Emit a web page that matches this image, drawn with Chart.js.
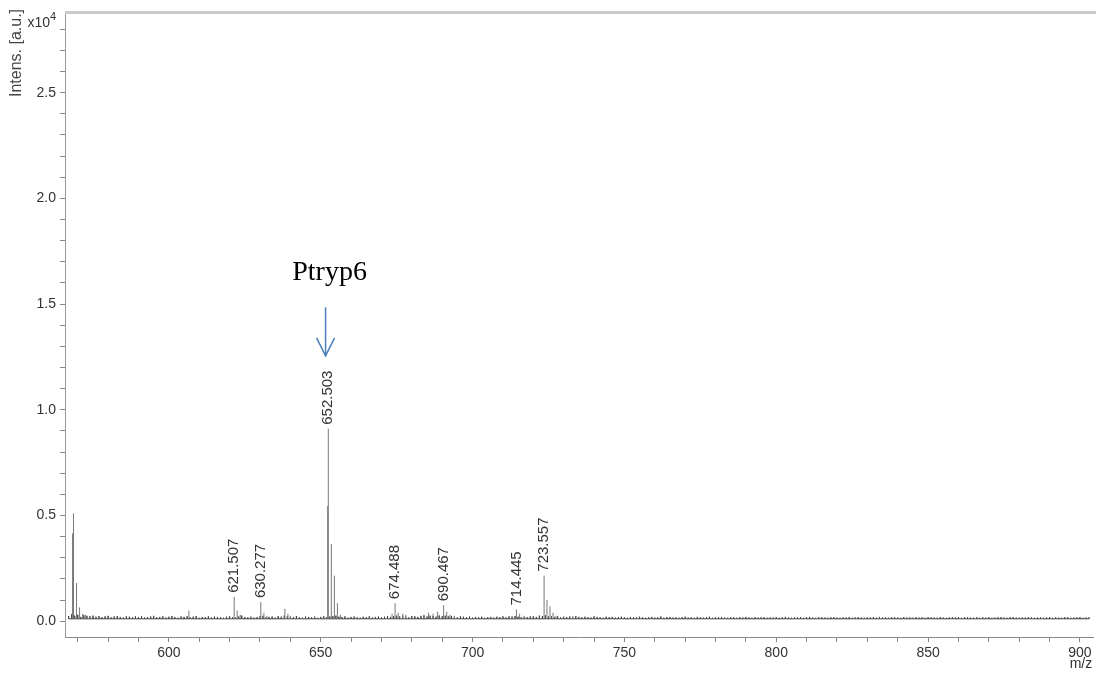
<!DOCTYPE html>
<html><head><meta charset="utf-8">
<script src="https://cdn.jsdelivr.net/npm/chart.js@4/dist/chart.umd.min.js"></script>
<style>html,body{margin:0;padding:0;background:#fff;}#wrap{width:1102px;height:673px;position:relative}</style>
</head><body><div id="wrap"><canvas id="c" width="1102" height="673"></canvas></div>
<script>
// ---- data (intensity in a.u., m/z) ----
const noiseStart = 567;
const noiseStep = 1;
const noiseFloor = 110;
const noise = [
240,330,260,300,200,280,250,230,260,210,240,190,230,250,180,220,240,200,170,230,
210,180,230,200,240,170,190,220,250,180,200,230,170,210,240,190,160,220,200,230,
180,210,240,160,200,190,230,170,220,200,180,160,210,230,190,170,220,260,200,180,
210,170,190,230,250,180,200,220,170,240,210,260,230,200,180,240,190,170,220,200,
180,210,160,200,230,190,220,240,260,210,190,230,170,200,220,180,160,210,190,230,
170,200,220,180,210,240,200,230,260,220,250,210,180,240,230,200,250,270,220,260,
240,210,270,230,260,220,250,200,180,230,210,190,220,170,200,180,210,160,190,200,
170,210,190,230,180,230,200,240,210,180,200,190,220,230,200,260,240,280,220,230,
200,230,180,210,190,220,170,240,200,180,210,190,170,230,200,180,160,210,190,200,
170,190,210,180,160,200,190,170,210,180,160,190,200,170,180,220,160,190,200,170,
180,160,190,210,170,190,160,200,180,170,190,210,160,180,190,200,170,160,190,180,
160,190,170,200,180,160,190,170,180,190,160,180,170,190,160,180,200,170,160,180,
170,190,160,180,200,170,160,180,190,170,160,180,190,170,160,180,170,190,160,180,
190,170,160,180,170,190,160,200,170,180,160,190,180,170,160,190,170,180,160,190,
170,180,160,190,180,170,160,190,170,160,180,190,170,180,160,190,180,170,160,190,
160,180,170,190,160,170,180,190,170,160,180,190,170,160,180,170,190,180,160,170,
180,160,170,190,160,180,170,160,190,180,160,170,180,190,160,170,180
];
const peakMz  = [568.3,568.6,569.6,570.6,571.6,572.6,574.0,606.6,621.507,622.5,623.5,630.277,631.3,632.3,638.2,639.2,640.0,
                 652.3,652.503,653.5,654.5,655.5,656.5,673.5,674.488,675.5,677.0,678.0,684.0,685.5,687.0,688.5,690.467,691.5,692.5,694.0,
                 713.0,714.445,715.5,717.0,723.557,724.5,725.5,726.5,727.5,733.0];
const peakInt = [4150,5100,1800,650,350,300,250,500,1150,500,300,900,400,250,580,350,250,
                 5450,9100,3650,2150,850,300,350,850,400,350,300,300,400,350,450,750,450,300,250,
                 250,550,350,250,2150,1000,700,400,250,250];
const labelMz  = [621.507, 630.277, 652.503, 674.488, 690.467, 714.445, 723.557];
const labelInt = [1150, 900, 9100, 850, 750, 550, 2150];
const labelText = ['621.507','630.277','652.503','674.488','690.467','714.445','723.557'];
const annotText = 'Ptryp6';
const annotMz = 651.6, annotTextInt = 16150, arrowTopInt = 14850, arrowTipInt = 12550;

const xMin = 565.8, xMax = 904.3, yMin = -750, yMax = 28800;
const xTickStep = 10, xLabelStep = 50, yTickStep = 1000, yLabelStep = 5000;

// ---- build datasets ----
const baseData = [];
noise.forEach((v, i) => {
  const m = noiseStart + i * noiseStep;
  baseData.push({x: m, y: noiseFloor});
  baseData.push({x: m, y: v});
  baseData.push({x: m, y: noiseFloor});
});
const stickData = [];
peakMz.forEach((m, i) => {
  stickData.push({x: m, y: noiseFloor});
  stickData.push({x: m, y: peakInt[i]});
  stickData.push({x: m, y: null});
});

const FONT = "'Liberation Sans', Arial, sans-serif";

function stepTicks(scale, step) {
  const t = [];
  const first = Math.ceil(scale.min / step) * step;
  for (let v = first; v <= scale.max + 1e-9; v += step) t.push({value: Math.round(v * 1000) / 1000});
  scale.ticks = t;
}

const extras = {
  id: 'extras',
  afterDraw(chart) {
    const ctx = chart.ctx, xs = chart.scales.x, ys = chart.scales.y, a = chart.chartArea;
    ctx.save();
    // top frame band
    ctx.strokeStyle = '#c9c9c9'; ctx.lineWidth = 3;
    ctx.beginPath(); ctx.moveTo(a.left, a.top); ctx.lineTo(a.right + 3, a.top); ctx.stroke();
    // peak labels
    ctx.fillStyle = '#333'; ctx.font = '15px ' + FONT;
    ctx.textAlign = 'left'; ctx.textBaseline = 'middle';
    labelMz.forEach((m, i) => {
      const px = xs.getPixelForValue(m), py = ys.getPixelForValue(labelInt[i]);
      ctx.save(); ctx.translate(px, py - 4); ctx.rotate(-Math.PI / 2);
      ctx.fillText(labelText[i], 0, 0); ctx.restore();
    });
    // y title
    ctx.fillStyle = '#444'; ctx.font = '16px ' + FONT;
    ctx.save(); ctx.translate(17, 53); ctx.rotate(-Math.PI / 2);
    ctx.textAlign = 'center'; ctx.textBaseline = 'middle';
    ctx.fillText('Intens. [a.u.]', 0, 0); ctx.restore();
    // x10^4
    ctx.fillStyle = '#333'; ctx.textAlign = 'right'; ctx.textBaseline = 'alphabetic';
    ctx.font = '14px ' + FONT; ctx.fillText('x10', 50, 27);
    ctx.textAlign = 'left'; ctx.font = '11px ' + FONT; ctx.fillText('4', 50, 20);
    // m/z
    ctx.font = '14px ' + FONT; ctx.textAlign = 'center'; ctx.textBaseline = 'middle';
    ctx.fillText('m/z', xs.getPixelForValue(900) + 1, 664);
    // annotation
    const ax = xs.getPixelForValue(annotMz);
    ctx.fillStyle = '#000'; ctx.font = "28px 'Liberation Serif', 'Times New Roman', serif";
    ctx.textAlign = 'center'; ctx.textBaseline = 'alphabetic';
    ctx.fillText(annotText, ax + 4, ys.getPixelForValue(annotTextInt));
    const t = ys.getPixelForValue(arrowTopInt), tip = ys.getPixelForValue(arrowTipInt);
    ctx.strokeStyle = '#4a7ebb'; ctx.lineWidth = 1.5;
    ctx.beginPath(); ctx.moveTo(ax, t); ctx.lineTo(ax, tip); ctx.stroke();
    ctx.beginPath(); ctx.moveTo(ax - 9, tip - 18); ctx.lineTo(ax, tip); ctx.lineTo(ax + 9, tip - 18); ctx.stroke();
    ctx.restore();
  }
};

new Chart(document.getElementById('c'), {
  type: 'line',
  data: {
    datasets: [
      {data: stickData, borderColor: '#777', borderWidth: 1, pointRadius: 0, spanGaps: false, tension: 0},
      {data: baseData, borderColor: '#444', borderWidth: 1, pointRadius: 0, tension: 0}
    ]
  },
  options: {
    responsive: false, animation: false,
    layout: {padding: {top: 10, right: 9, left: 0, bottom: 0}},
    plugins: {legend: {display: false}, tooltip: {enabled: false}},
    scales: {
      x: {
        type: 'linear', min: xMin, max: xMax,
        afterBuildTicks: s => stepTicks(s, xTickStep),
        ticks: {autoSkip: false, maxRotation: 0,
                callback: v => (Math.abs(v % xLabelStep) < 1e-6 ? String(v) : ''),
                font: {family: FONT, size: 14}, color: '#333', padding: 3},
        grid: {drawOnChartArea: false, tickLength: 5, color: '#888'},
        border: {color: '#888'},
        afterFit: s => { s.height = 36; }
      },
      y: {
        min: yMin, max: yMax,
        afterBuildTicks: s => stepTicks(s, yTickStep),
        ticks: {autoSkip: false,
                callback: v => (Math.abs(v % yLabelStep) < 1e-6 ? (v / 10000).toFixed(1) : ''),
                font: {family: FONT, size: 14}, color: '#333', padding: 4},
        grid: {drawOnChartArea: false, tickLength: 5, color: '#888'},
        border: {color: '#999'},
        afterFit: s => { s.width = 65; }
      }
    }
  },
  plugins: [extras]
});
</script></body></html>
